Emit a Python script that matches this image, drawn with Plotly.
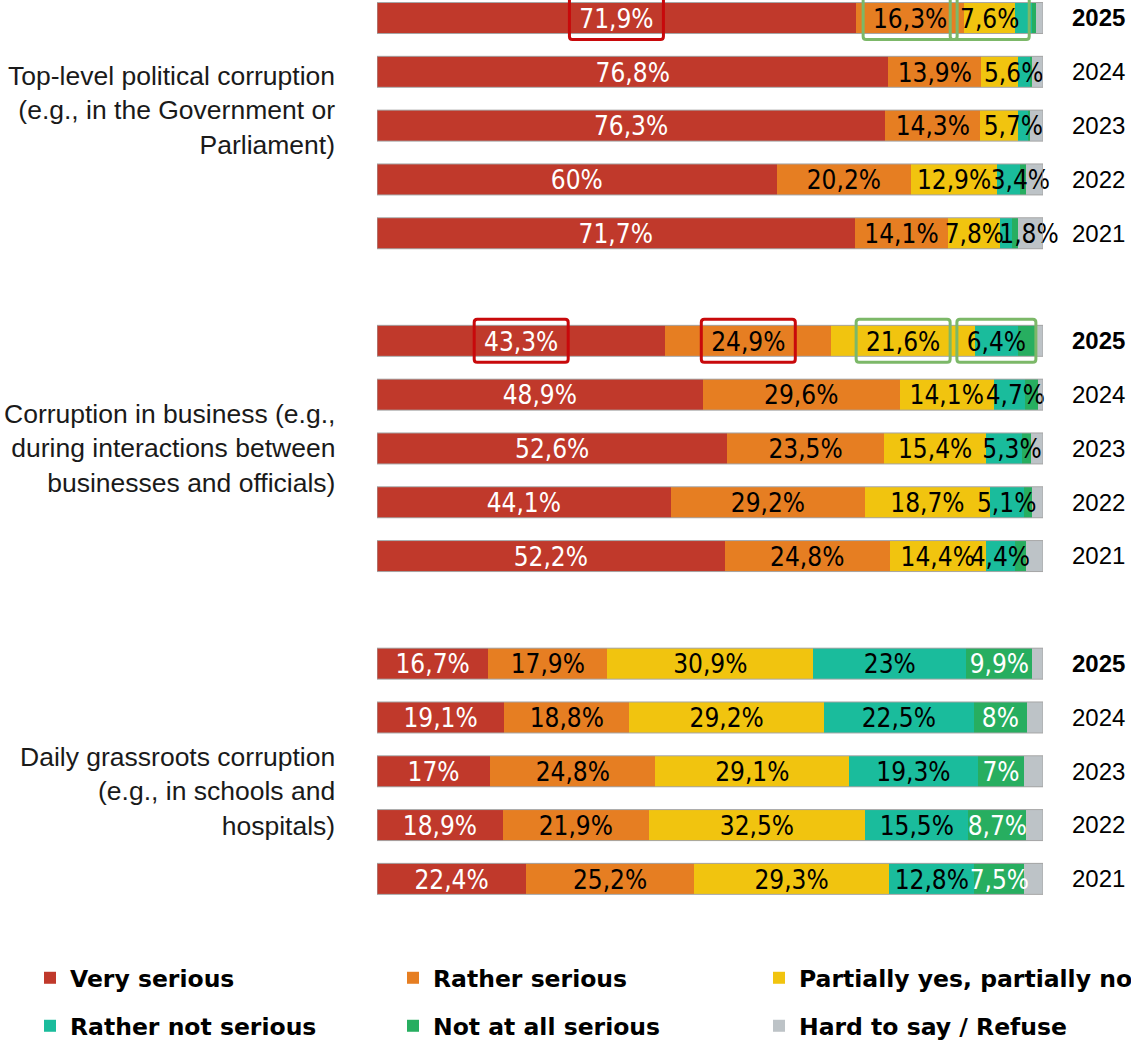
import plotly.graph_objects as go

# ---- data -----------------------------------------------------------------
YEARS = ["2025", "2024", "2023", "2022", "2021"]          # top to bottom in each block
BOLD_YEAR = "2025"

SERIES = [
    "Very serious",
    "Rather serious",
    "Partially yes, partially no",
    "Rather not serious",
    "Not at all serious",
    "Hard to say / Refuse",
]

GROUP_LABELS = [
    "Top-level political corruption<br>(e.g., in the Government or<br>Parliament)",
    "Corruption in business (e.g.,<br>during interactions between<br>businesses and officials)",
    "Daily grassroots corruption<br>(e.g., in schools and<br>hospitals)",
]

# Top-level political corruption, % (2025 ... 2021)
POL_VERY = [71.9, 76.8, 76.3, 60.0, 71.7]
POL_RATHER = [16.3, 13.9, 14.3, 20.2, 14.1]
POL_PARTIAL = [7.6, 5.6, 5.7, 12.9, 7.8]
POL_RATHER_NOT = [2.6, 1.8, 1.5, 3.4, 1.8]
POL_NOT_AT_ALL = [0.5, 0.3, 0.3, 0.9, 0.8]
POL_HARD = [1.1, 1.6, 1.9, 2.6, 3.8]

# Corruption in business, %
BUS_VERY = [43.3, 48.9, 52.6, 44.1, 52.2]
BUS_RATHER = [24.9, 29.6, 23.5, 29.2, 24.8]
BUS_PARTIAL = [21.6, 14.1, 15.4, 18.7, 14.4]
BUS_RATHER_NOT = [6.4, 4.7, 5.3, 5.1, 4.4]
BUS_NOT_AT_ALL = [2.6, 1.9, 1.4, 1.3, 1.7]
BUS_HARD = [1.2, 0.8, 1.8, 1.6, 2.5]

# Daily grassroots corruption, %
GRS_VERY = [16.7, 19.1, 17.0, 18.9, 22.4]
GRS_RATHER = [17.9, 18.8, 24.8, 21.9, 25.2]
GRS_PARTIAL = [30.9, 29.2, 29.1, 32.5, 29.3]
GRS_RATHER_NOT = [23.0, 22.5, 19.3, 15.5, 12.8]
GRS_NOT_AT_ALL = [9.9, 8.0, 7.0, 8.7, 7.5]
GRS_HARD = [1.6, 2.4, 2.8, 2.5, 2.8]

# which segments carry a value label ("1" = labelled), per series, per year
POL_LABELLED = ["11111", "11111", "11111", "00011", "00000", "00000"]
BUS_LABELLED = ["11111", "11111", "11111", "11111", "00000", "00000"]
GRS_LABELLED = ["11111", "11111", "11111", "11111", "11111", "00000"]

# highlighted labels: (block, year, series index, frame kind)
HIGHLIGHTS = [
    (0, "2025", 0, "red"),
    (0, "2025", 1, "green"),
    (0, "2025", 2, "green"),
    (1, "2025", 0, "red"),
    (1, "2025", 1, "red"),
    (1, "2025", 2, "green"),
    (1, "2025", 3, "green"),
]

# ---- styling ----------------------------------------------------------------
COLORS = ["#C0392B", "#E67E22", "#F1C40F", "#1ABC9C", "#27AE60", "#BDC3C7"]
LABEL_COLORS = ["white", "black", "black", "black", "white", "black"]
FRAME_COLORS = {"red": "#C8090B", "green": "#7CB868"}
LABEL_FONT = "DejaVu Sans Condensed, Liberation Sans, sans-serif"
TEXT_FONT = "Liberation Sans, Arial, sans-serif"
LABEL_DY = 0.06   # nudges value labels slightly below the bar centre line
BAR_WIDTH = 0.576
# labels too wide for their thin segment are pushed right (axis units)
LABEL_NUDGE = {
    (0, "2024", 2): 2.1,
    (0, "2023", 2): 2.1,
    (0, "2022", 3): 1.8,
    (0, "2021", 3): 3.4,
    (1, "2024", 3): 0.9,
    (1, "2023", 3): 1.2,
}

W, H = 1131, 1043
# legend grid: left edge of each column, centre line of each row (px)
LEGEND_COLS = [30, 393, 759]
LEGEND_ROWS = [978, 1026]

blocks = [
    [POL_VERY, POL_RATHER, POL_PARTIAL, POL_RATHER_NOT, POL_NOT_AT_ALL, POL_HARD],
    [BUS_VERY, BUS_RATHER, BUS_PARTIAL, BUS_RATHER_NOT, BUS_NOT_AT_ALL, BUS_HARD],
    [GRS_VERY, GRS_RATHER, GRS_PARTIAL, GRS_RATHER_NOT, GRS_NOT_AT_ALL, GRS_HARD],
]
labelled = [POL_LABELLED, BUS_LABELLED, GRS_LABELLED]

ROWS_PER_BLOCK = len(YEARS) + 1  # one empty row between blocks


def row_of(block, year_idx):
    return block * ROWS_PER_BLOCK + year_idx


def fmt(v):
    return f"{v:g}".replace(".", ",") + "%"


def legend_id(s):
    return "legend" if s == 0 else f"legend{s + 1}"


fig = go.Figure()

# stacked bars
for s, name in enumerate(SERIES):
    xs, ys = [], []
    for b, blk in enumerate(blocks):
        for i in range(len(YEARS)):
            xs.append(blk[s][i])
            ys.append(row_of(b, i))
    fig.add_trace(go.Bar(
        x=xs, y=ys, orientation="h", name=name,
        marker=dict(color=COLORS[s], line=dict(width=0)),
        width=BAR_WIDTH, hoverinfo="skip",
        legend=legend_id(s),
    ))

# value labels, centred on each segment and drawn above all bars
mids = {}
for s in range(len(SERIES)):
    xs, ys, texts = [], [], []
    for b, blk in enumerate(blocks):
        for i in range(len(YEARS)):
            start = sum(blk[k][i] for k in range(s))
            mid = start + blk[s][i] / 2
            mids[(b, YEARS[i], s)] = mid
            if labelled[b][s][i] == "1":
                xs.append(mid + LABEL_NUDGE.get((b, YEARS[i], s), 0.0))
                ys.append(row_of(b, i) + LABEL_DY)
                texts.append(fmt(blk[s][i]))
    if xs:
        fig.add_trace(go.Scatter(
            x=xs, y=ys, text=texts, mode="text", textposition="middle center",
            textfont=dict(family=LABEL_FONT, size=26, color=LABEL_COLORS[s]),
            showlegend=False, hoverinfo="skip", cliponaxis=False,
        ))


def rounded_box(w, h, r):
    x0, x1, y0, y1 = -w / 2, w / 2, -h / 2, h / 2
    return (f"M{x0 + r},{y0} L{x1 - r},{y0} Q{x1},{y0} {x1},{y0 + r} "
            f"L{x1},{y1 - r} Q{x1},{y1} {x1 - r},{y1} L{x0 + r},{y1} "
            f"Q{x0},{y1} {x0},{y1 - r} L{x0},{y0 + r} Q{x0},{y0} {x0 + r},{y0} Z")


shapes = []
# thin grey frame around every whole bar
for b, blk in enumerate(blocks):
    for i in range(len(YEARS)):
        total = sum(blk[k][i] for k in range(len(SERIES)))
        r = row_of(b, i)
        shapes.append(dict(
            type="rect", xref="x", yref="y",
            x0=0, x1=total, y0=r - BAR_WIDTH / 2, y1=r + BAR_WIDTH / 2,
            line=dict(color="#A6A6A6", width=1), fillcolor="rgba(0,0,0,0)",
            layer="above",
        ))

for b, year, s, kind in HIGHLIGHTS:
    label = fmt(blocks[b][s][YEARS.index(year)])
    w = 94 if len(label) >= 5 else 79
    shapes.append(dict(
        type="path", path=rounded_box(w, 43, 3),
        xref="x", yref="y", xsizemode="pixel", ysizemode="pixel",
        xanchor=mids[(b, year, s)], yanchor=row_of(b, YEARS.index(year)),
        line=dict(color=FRAME_COLORS[kind], width=3), layer="above",
    ))

# block titles on the left
annotations = []
title_shift = [15, 0, -20]
for b, txt in enumerate(GROUP_LABELS):
    annotations.append(dict(
        text=txt, xref="paper", x=-0.06, xanchor="right", align="right",
        yref="y", y=row_of(b, 2), yanchor="middle", yshift=title_shift[b],
        showarrow=False, font=dict(family=TEXT_FONT, size=26.5, color="#1a1a1a"),
    ))

tickvals, ticktext = [], []
for b in range(len(blocks)):
    for i, yr in enumerate(YEARS):
        tickvals.append(row_of(b, i))
        ticktext.append(f"<b>{yr}</b>" if yr == BOLD_YEAR else yr)

# one single-entry legend per series, laid out on a 3 x 2 grid
legends = {}
for s in range(len(SERIES)):
    col, row = s % 3, s // 3
    legends[legend_id(s)] = dict(
        orientation="h", xref="container", yref="container",
        x=LEGEND_COLS[col] / W, y=1 - LEGEND_ROWS[row] / H,
        xanchor="left", yanchor="middle",
        font=dict(family="DejaVu Sans, sans-serif", size=23.5, color="black", weight="bold"),
        bgcolor="rgba(0,0,0,0)", itemclick=False, itemdoubleclick=False,
    )

fig.update_layout(
    width=W, height=H,
    margin=dict(l=377, r=88, t=0, b=113, autoexpand=False),
    paper_bgcolor="white", plot_bgcolor="white",
    barmode="stack", bargap=0,
    showlegend=True,
    xaxis=dict(range=[0, 100], visible=False, fixedrange=True),
    yaxis=dict(
        range=[16.95, -0.335], tickvals=tickvals, ticktext=ticktext,
        side="right", ticks="", showgrid=False, zeroline=False, showline=False,
        ticklabelstandoff=28,
        tickfont=dict(family=TEXT_FONT, size=24, color="black"),
        fixedrange=True,
    ),
    shapes=shapes,
    annotations=annotations,
    **legends,
)

fig.write_html("out.html")
